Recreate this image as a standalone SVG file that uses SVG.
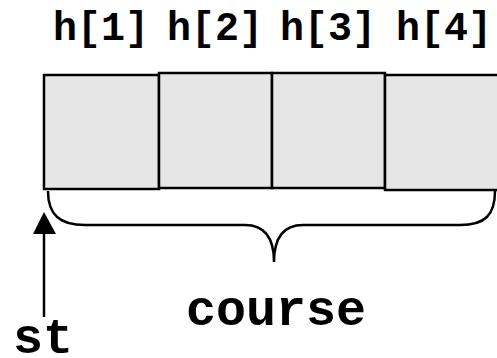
<svg xmlns="http://www.w3.org/2000/svg" width="497" height="358" viewBox="0 0 497 358">
<style>
.cell{fill:#e6e6e6;stroke:#000;stroke-width:2.5}
.lbl{font-family:"Liberation Mono","Courier New",monospace;font-weight:bold;fill:#000}
</style>
<rect width="497" height="358" fill="#fff"/>
<g id="h1"><rect class="cell" x="44" y="75" width="115" height="114"/><text class="lbl" x="101" y="40" font-size="40" text-anchor="middle">h[1]</text></g>
<g id="h2"><rect class="cell" x="159" y="73" width="113" height="115"/><text class="lbl" x="215" y="40" font-size="40" text-anchor="middle">h[2]</text></g>
<g id="h3"><rect class="cell" x="272" y="73" width="113" height="115"/><text class="lbl" x="328" y="40" font-size="40" text-anchor="middle">h[3]</text></g>
<g id="h4"><rect class="cell" x="385" y="75" width="120" height="115"/><text class="lbl" x="444" y="40" font-size="40" text-anchor="middle">h[4]</text></g>
<g id="connectors">
<path d="M48,191 C48,215 60,225 85,225 L245,225 C262,225 274,235 274,262 C274,235 286,225 303,225 L460,225 C485,225 495,215 495,191" fill="none" stroke="#000" stroke-width="2.5"/>
<line x1="44" y1="317" x2="44" y2="232" stroke="#000" stroke-width="2.5"/>
<polygon points="44,212 33,234 56,234" fill="#000"/>
</g>
<g id="course"><text class="lbl" x="276" y="325" font-size="50" text-anchor="middle">course</text></g>
<g id="st"><text class="lbl" x="13" y="353" font-size="50">st</text></g>
</svg>
